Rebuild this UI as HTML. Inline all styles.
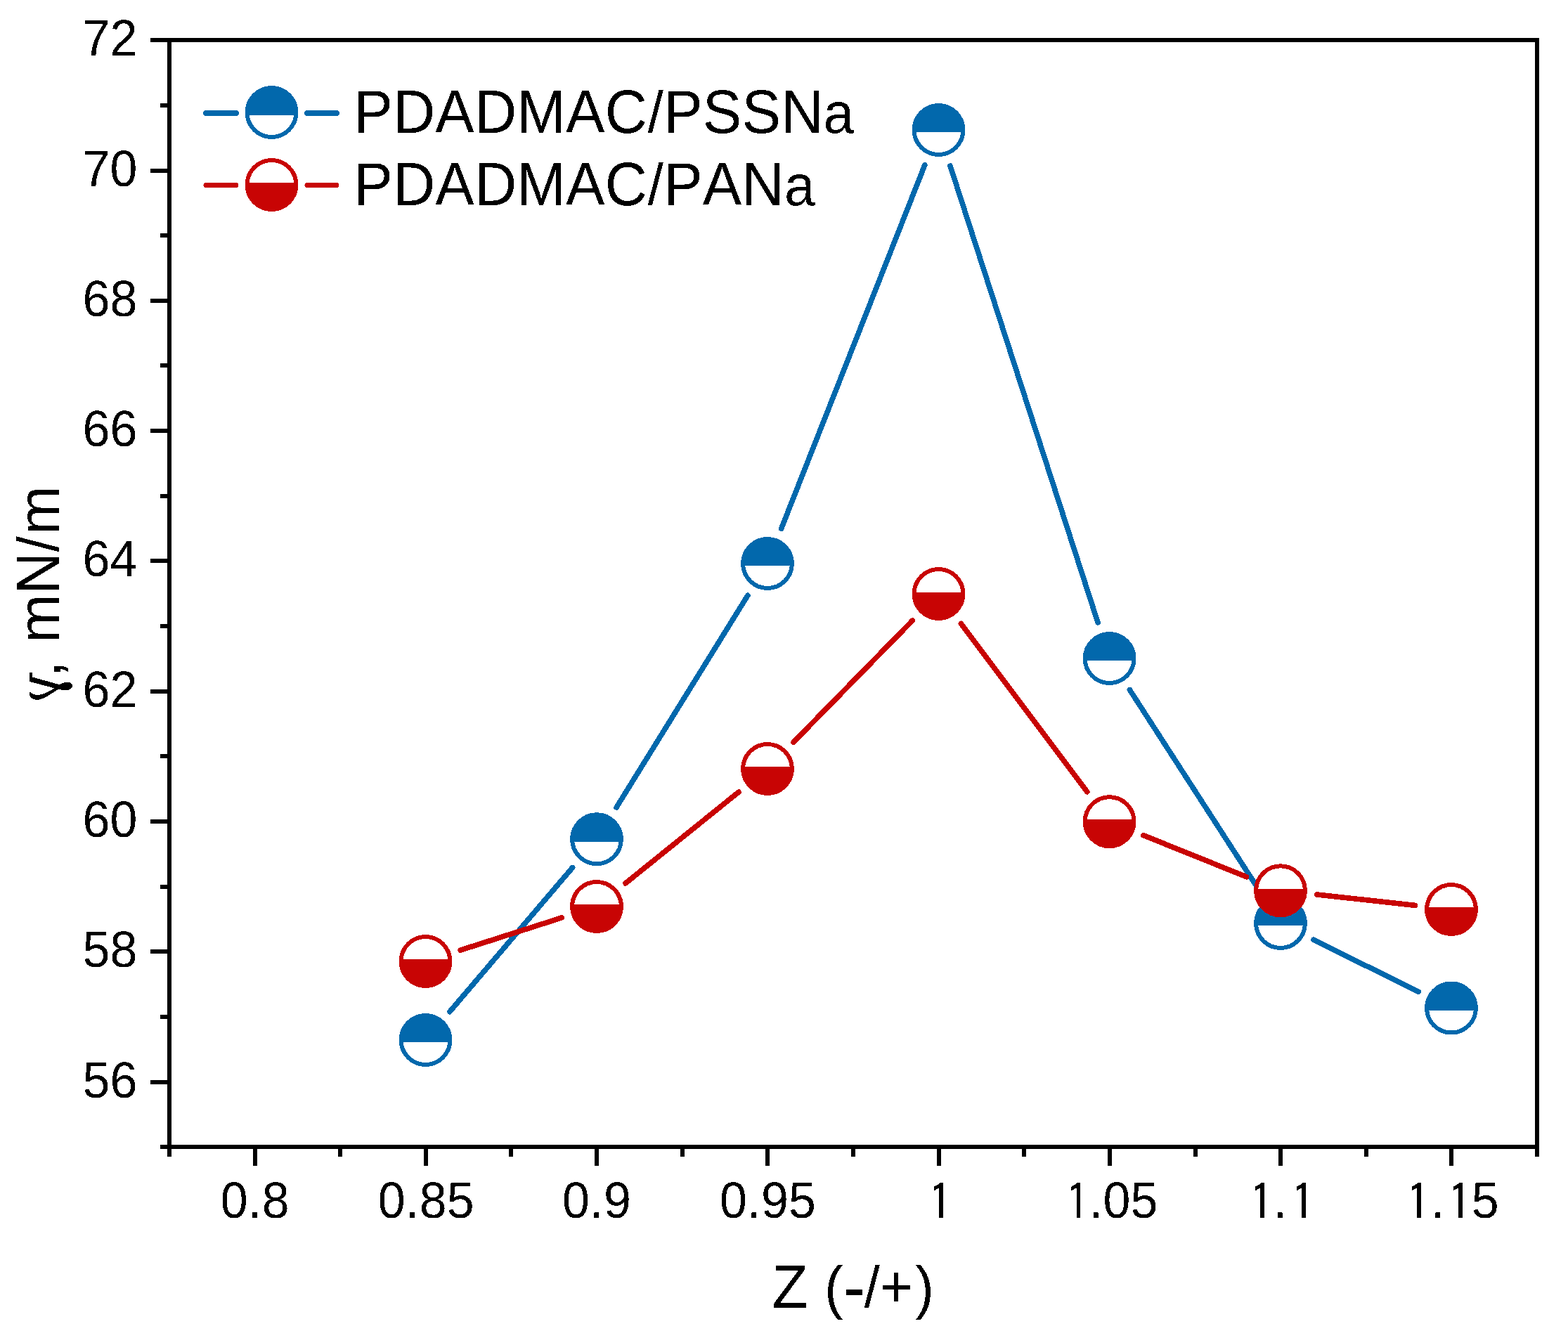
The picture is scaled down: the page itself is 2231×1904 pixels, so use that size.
<!DOCTYPE html>
<html lang="en"><head><meta charset="utf-8"><title>Surface tension vs Z</title>
<style>
html,body{margin:0;padding:0;background:#fff;}
body{width:2231px;height:1904px;}
svg{display:block;}
text{font-family:"Liberation Sans",sans-serif;fill:#000;font-kerning:none;white-space:pre;}
.tk{font-size:70px;}
.tt{font-size:83.33px;letter-spacing:0.17px;}
.sl{font-size:80.1px;letter-spacing:0;}
.lc{font-size:78.5px;letter-spacing:0;}
.hy{font-size:94.2px;letter-spacing:0;}
.lm{font-size:80.4px;letter-spacing:0;}
.one{font-family:"IPAGothic","Liberation Sans",sans-serif;font-size:69px;}
.sym{font-family:"DejaVu Serif","Liberation Serif",serif;font-size:76.2px;}
</style></head><body>
<svg width="2231" height="1904" viewBox="0 0 2231 1904" shape-rendering="crispEdges">
<rect x="0" y="0" width="2231" height="1904" fill="#fff"/>
<g fill="#000">
<rect x="238" y="54" width="6" height="1592"/>
<rect x="2184" y="54" width="6" height="1592"/>
<rect x="214" y="54" width="1976" height="6"/>
<rect x="228" y="1629" width="1962" height="6"/>
<rect x="214" y="1537" width="26" height="6"/>
<rect x="228" y="1444" width="12" height="6"/>
<rect x="214" y="1351" width="26" height="6"/>
<rect x="228" y="1259" width="12" height="6"/>
<rect x="214" y="1166" width="26" height="6"/>
<rect x="228" y="1073" width="12" height="6"/>
<rect x="214" y="981" width="26" height="6"/>
<rect x="228" y="888" width="12" height="6"/>
<rect x="214" y="795" width="26" height="6"/>
<rect x="228" y="703" width="12" height="6"/>
<rect x="214" y="610" width="26" height="6"/>
<rect x="228" y="517" width="12" height="6"/>
<rect x="214" y="425" width="26" height="6"/>
<rect x="228" y="332" width="12" height="6"/>
<rect x="214" y="240" width="26" height="6"/>
<rect x="228" y="147" width="12" height="6"/>
<rect x="360" y="1632" width="6" height="27"/>
<rect x="481" y="1632" width="6" height="14"/>
<rect x="603" y="1632" width="6" height="27"/>
<rect x="724" y="1632" width="6" height="14"/>
<rect x="846" y="1632" width="6" height="27"/>
<rect x="968" y="1632" width="6" height="14"/>
<rect x="1089" y="1632" width="6" height="27"/>
<rect x="1211" y="1632" width="6" height="14"/>
<rect x="1333" y="1632" width="6" height="27"/>
<rect x="1454" y="1632" width="6" height="14"/>
<rect x="1576" y="1632" width="6" height="27"/>
<rect x="1698" y="1632" width="6" height="14"/>
<rect x="1819" y="1632" width="6" height="27"/>
<rect x="1941" y="1632" width="6" height="14"/>
<rect x="2062" y="1632" width="6" height="27"/>
</g>
<g stroke="#0268ac" stroke-width="7.6" stroke-linecap="round" fill="none">
<line x1="639.89" y1="1439.64" x2="814.61" y2="1234.56"/>
<line x1="877.06" y1="1148.91" x2="1063.94" y2="847.29"/>
<line x1="1111.66" y1="752.19" x2="1315.84" y2="234.81"/>
<line x1="1351.99" y1="236.02" x2="1562.11" y2="885.98"/>
<line x1="1607.48" y1="981.74" x2="1793.12" y2="1269.26"/>
<line x1="1868.89" y1="1337.25" x2="2018.11" y2="1411.25"/>
</g>
<g>
<ellipse cx="605.50" cy="1480.00" rx="34.90" ry="35.00" fill="#fff" stroke="#0268ac" stroke-width="6"/><path d="M567.72 1483.00 A37.90 38.00 0 1 1 643.28 1483.00 Z" fill="#0268ac"/>
<ellipse cx="849.00" cy="1194.20" rx="34.90" ry="35.00" fill="#fff" stroke="#0268ac" stroke-width="6"/><path d="M811.28 1197.90 A37.90 38.00 0 1 1 886.72 1197.90 Z" fill="#0268ac"/>
<ellipse cx="1092.00" cy="802.00" rx="34.90" ry="35.00" fill="#fff" stroke="#0268ac" stroke-width="6"/><path d="M1054.20 804.80 A37.90 38.00 0 1 1 1129.80 804.80 Z" fill="#0268ac"/>
<ellipse cx="1335.50" cy="185.00" rx="34.90" ry="35.00" fill="#fff" stroke="#0268ac" stroke-width="6"/><path d="M1297.71 187.90 A37.90 38.00 0 1 1 1373.29 187.90 Z" fill="#0268ac"/>
<ellipse cx="1578.60" cy="937.00" rx="34.90" ry="35.00" fill="#fff" stroke="#0268ac" stroke-width="6"/><path d="M1540.81 939.90 A37.90 38.00 0 1 1 1616.39 939.90 Z" fill="#0268ac"/>
<ellipse cx="1822.00" cy="1314.00" rx="34.90" ry="35.00" fill="#fff" stroke="#0268ac" stroke-width="6"/><path d="M1784.20 1316.80 A37.90 38.00 0 1 1 1859.80 1316.80 Z" fill="#0268ac"/>
<ellipse cx="2065.00" cy="1434.50" rx="34.90" ry="35.00" fill="#fff" stroke="#0268ac" stroke-width="6"/><path d="M2027.25 1437.90 A37.90 38.00 0 1 1 2102.75 1437.90 Z" fill="#0268ac"/>
</g>
<g stroke="#c80404" stroke-width="7.6" stroke-linecap="round" fill="none">
<line x1="655.17" y1="1352.09" x2="799.33" y2="1305.91"/>
<line x1="890.01" y1="1256.92" x2="1050.99" y2="1127.08"/>
<line x1="1128.98" y1="1056.18" x2="1298.52" y2="882.82"/>
<line x1="1367.37" y1="887.51" x2="1546.73" y2="1126.69"/>
<line x1="1627.05" y1="1188.73" x2="1773.55" y2="1247.77"/>
<line x1="1873.71" y1="1272.98" x2="2013.29" y2="1288.32"/>
</g>
<g>
<ellipse cx="605.50" cy="1368.00" rx="34.90" ry="35.00" fill="#fff" stroke="#c80404" stroke-width="6"/><path d="M567.72 1365.00 A37.90 38.00 0 1 0 643.28 1365.00 Z" fill="#c80404"/>
<ellipse cx="849.00" cy="1290.00" rx="34.90" ry="35.00" fill="#fff" stroke="#c80404" stroke-width="6"/><path d="M811.22 1287.00 A37.90 38.00 0 1 0 886.78 1287.00 Z" fill="#c80404"/>
<ellipse cx="1092.00" cy="1094.00" rx="34.90" ry="35.00" fill="#fff" stroke="#c80404" stroke-width="6"/><path d="M1054.23 1090.80 A37.90 38.00 0 1 0 1129.77 1090.80 Z" fill="#c80404"/>
<ellipse cx="1335.50" cy="845.00" rx="34.90" ry="35.00" fill="#fff" stroke="#c80404" stroke-width="6"/><path d="M1297.66 842.90 A37.90 38.00 0 1 0 1373.34 842.90 Z" fill="#c80404"/>
<ellipse cx="1578.60" cy="1169.20" rx="34.90" ry="35.00" fill="#fff" stroke="#c80404" stroke-width="6"/><path d="M1540.85 1165.80 A37.90 38.00 0 1 0 1616.35 1165.80 Z" fill="#c80404"/>
<ellipse cx="1822.00" cy="1267.30" rx="34.90" ry="35.00" fill="#fff" stroke="#c80404" stroke-width="6"/><path d="M1784.17 1265.00 A37.90 38.00 0 1 0 1859.83 1265.00 Z" fill="#c80404"/>
<ellipse cx="2065.00" cy="1294.00" rx="34.90" ry="35.00" fill="#fff" stroke="#c80404" stroke-width="6"/><path d="M2027.23 1290.80 A37.90 38.00 0 1 0 2102.77 1290.80 Z" fill="#c80404"/>
</g>
<g stroke="#0268ac" stroke-width="8" stroke-linecap="round">
<line x1="293" y1="161" x2="336" y2="161"/>
<line x1="437" y1="161" x2="479" y2="161"/>
</g>
<ellipse cx="386.50" cy="160.00" rx="34.90" ry="35.00" fill="#fff" stroke="#0268ac" stroke-width="6"/><path d="M348.78 163.70 A37.90 38.00 0 1 1 424.22 163.70 Z" fill="#0268ac"/>
<g stroke="#c80404" stroke-width="7" stroke-linecap="round">
<line x1="293" y1="263.5" x2="336" y2="263.5"/>
<line x1="437" y1="263.5" x2="479" y2="263.5"/>
</g>
<ellipse cx="386.50" cy="263.00" rx="34.90" ry="35.00" fill="#fff" stroke="#c80404" stroke-width="6"/><path d="M348.72 260.00 A37.90 38.00 0 1 0 424.28 260.00 Z" fill="#c80404"/>
<defs><filter id="bw" x="0" y="0" width="2231" height="1904" filterUnits="userSpaceOnUse" color-interpolation-filters="sRGB"><feComponentTransfer><feFuncA type="discrete" tableValues="0 1"/></feComponentTransfer></filter></defs>
<g filter="url(#bw)">
<text class="tt" transform="translate(503.2 189) scale(1 1.0405)"><tspan x="0" y="0">PDADMAC</tspan><tspan class="sl" x="418.2" y="0">/</tspan><tspan x="440.9" y="0">PSSN</tspan><tspan class="lc" x="668.4" y="0">a</tspan></text>
<text class="tt" transform="translate(503.2 292) scale(1 1.0405)"><tspan x="0" y="0">PDADMAC</tspan><tspan class="sl" x="418.2" y="0">/</tspan><tspan x="440.9" y="0">PAN</tspan><tspan class="lc" x="612.8" y="0">a</tspan></text>
<text class="tk" transform="translate(117.50 1561.60) scale(1 1.0405)"><tspan x="0.00" y="0">5</tspan><tspan x="39.00" y="0">6</tspan></text>
<text class="tk" transform="translate(117.50 1375.60) scale(1 1.0405)"><tspan x="0.00" y="0">5</tspan><tspan x="39.00" y="0">8</tspan></text>
<text class="tk" transform="translate(117.50 1190.60) scale(1 1.0405)"><tspan x="0.00" y="0">6</tspan><tspan x="39.00" y="0">0</tspan></text>
<text class="tk" transform="translate(117.50 1005.60) scale(1 1.0405)"><tspan x="0.00" y="0">6</tspan><tspan x="39.00" y="0">2</tspan></text>
<text class="tk" transform="translate(117.50 819.60) scale(1 1.0405)"><tspan x="0.00" y="0">6</tspan><tspan x="39.00" y="0">4</tspan></text>
<text class="tk" transform="translate(117.50 634.60) scale(1 1.0405)"><tspan x="0.00" y="0">6</tspan><tspan x="39.00" y="0">6</tspan></text>
<text class="tk" transform="translate(117.50 449.60) scale(1 1.0405)"><tspan x="0.00" y="0">6</tspan><tspan x="39.00" y="0">8</tspan></text>
<text class="tk" transform="translate(117.50 264.60) scale(1 1.0405)"><tspan x="0.00" y="0">7</tspan><tspan x="39.00" y="0">0</tspan></text>
<text class="tk" transform="translate(117.50 78.60) scale(1 1.0405)"><tspan x="0.00" y="0">7</tspan><tspan x="39.00" y="0">2</tspan></text>
<text class="tk" transform="translate(313.63 1733.00) scale(1 1.0405)"><tspan x="0.00" y="0">0</tspan><tspan x="39.00" y="0">.</tspan><tspan x="59.00" y="0">8</tspan></text>
<text class="tk" transform="translate(537.38 1733.00) scale(1 1.0405)"><tspan x="0.50" y="0">0</tspan><tspan x="39.50" y="0">.</tspan><tspan x="59.50" y="0">8</tspan><tspan x="98.50" y="0">5</tspan></text>
<text class="tk" transform="translate(800.12 1733.00) scale(1 1.0405)"><tspan x="0.00" y="0">0</tspan><tspan x="39.00" y="0">.</tspan><tspan x="59.00" y="0">9</tspan></text>
<text class="tk" transform="translate(1023.88 1733.00) scale(1 1.0405)"><tspan x="0.00" y="0">0</tspan><tspan x="39.00" y="0">.</tspan><tspan x="59.00" y="0">9</tspan><tspan x="98.00" y="0">5</tspan></text>
<text class="tk" transform="translate(1316.12 1733.00) scale(1 1.0405)"><tspan class="one" x="4.94" y="3.5">1</tspan></text>
<text class="tk" transform="translate(1510.38 1733.00) scale(1 1.0405)"><tspan class="one" x="5.94" y="3.5">1</tspan><tspan x="39.00" y="0">.</tspan><tspan x="59.00" y="0">0</tspan><tspan x="98.00" y="0">5</tspan></text>
<text class="tk" transform="translate(1773.13 1733.00) scale(1 1.0405)"><tspan class="one" x="4.94" y="3.5">1</tspan><tspan x="38.50" y="0">.</tspan><tspan class="one" x="63.94" y="3.5">1</tspan></text>
<text class="tk" transform="translate(1996.88 1733.00) scale(1 1.0405)"><tspan class="one" x="3.94" y="3.5">1</tspan><tspan x="39.00" y="0">.</tspan><tspan class="one" x="62.94" y="3.5">1</tspan><tspan x="97.00" y="0">5</tspan></text>
<text class="tt" transform="translate(1098.4 1860.8) scale(1 1.0405)"><tspan x="0" y="0">Z </tspan><tspan class="sl" x="74.6" y="0">(</tspan><tspan class="hy" x="101.5" y="4.5">-</tspan><tspan class="sl" x="131" y="0">/</tspan><tspan class="sl" x="153.7" y="-1.5">+</tspan><tspan class="sl" x="203.8" y="0">)</tspan></text>
<text class="sym" transform="translate(84.6 996) rotate(-90) scale(-1 1.0996)" x="-41.75" y="0">γ</text>
<text class="tt" transform="translate(84 996) rotate(-90) scale(1 1.0405)"><tspan x="32.5" y="1.9">, </tspan><tspan class="lm" x="81.1" y="0" textLength="69.4" lengthAdjust="spacingAndGlyphs">m</tspan><tspan x="150.3" y="0">N</tspan><tspan class="sl" x="210.5" y="0">/</tspan><tspan class="lm" x="235.1" y="0" textLength="69.4" lengthAdjust="spacingAndGlyphs">m</tspan></text>
</g>
</svg></body></html>
